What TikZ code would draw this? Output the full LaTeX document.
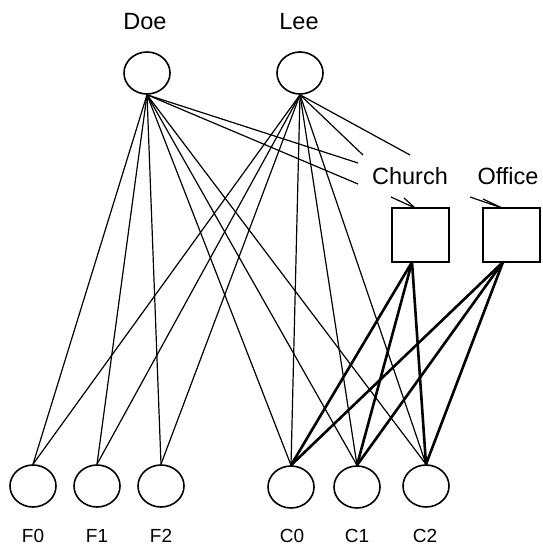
\documentclass[tikz,border=0pt]{standalone}
\usepackage{fontspec}
\setmainfont{Liberation Sans}
\usetikzlibrary{shapes.geometric}
\begin{document}
\begin{tikzpicture}[x=1pt,y=-1pt,
  person/.style={draw,ellipse,line width=1.6pt,minimum width=46pt,minimum height=42pt,inner sep=0pt},
  placebox/.style={draw,rectangle,line width=1.6pt,minimum width=57pt,minimum height=54pt,inner sep=0pt},
  toplabel/.style={font=\fontsize{23.5}{23.5}\selectfont,inner sep=0pt},
  botlabel/.style={font=\fontsize{19}{19}\selectfont,inner sep=0pt},
  thinedge/.style={line width=1.2pt},
  thickedge/.style={line width=2.6pt},
  stubedge/.style={line width=1.2pt}]
\useasboundingbox (0,0) rectangle (543,546);
% top nodes
\node[person] (doe) at (147,73) {};
\node[person] (lee) at (300,73) {};
\node[toplabel] (doel) at (145,22) {Doe};
\node[toplabel] (leel) at (299,22) {Lee};
% boxes
\node[placebox] (church) at (420.5,235) {};
\node[placebox] (office) at (511.5,235) {};
\node[toplabel] (churchl) at (410,176) {Church};
\node[toplabel] (officel) at (508,176) {Office};
\coordinate (cb) at (412,262);
\coordinate (ob) at (503,262);
% bottom nodes
\node[person] (f0) at (33,486) {};
\node[person] (f1) at (97,486) {};
\node[person] (f2) at (161,486) {};
\node[person] (c0) at (291,487) {};
\node[person] (c1) at (357,487) {};
\node[person] (c2) at (426,486) {};
\node[botlabel] (f0l) at (33,536) {F0};
\node[botlabel] (f1l) at (97,536) {F1};
\node[botlabel] (f2l) at (161,536) {F2};
\node[botlabel] (c0l) at (292,536) {C0};
\node[botlabel] (c1l) at (357,536) {C1};
\node[botlabel] (c2l) at (425,536) {C2};
% truncated edges towards Church / Office
\coordinate (d1) at (358,163);
\coordinate (d2) at (358,184);
\coordinate (l1) at (363,155);
\coordinate (l2) at (410,155);
% edge stubs at boxes
\coordinate (ca1) at (391,197);
\coordinate (ca2) at (404,198);
\coordinate (ct) at (415,208);
\coordinate (oa1) at (470,197);
\coordinate (oa2) at (483,199);
\coordinate (ot) at (502,208);
% Doe edges
\foreach \t in {f0,f1,f2,c0,c1,c2} \draw[thinedge] (doe.south) -- (\t.north);
\draw[thinedge] (doe.south) -- (d1);
\draw[thinedge] (doe.south) -- (d2);
% Lee edges
\foreach \t in {f0,f1,f2,c0,c1,c2} \draw[thinedge] (lee.south) -- (\t.north);
\draw[thinedge] (lee.south) -- (l1);
\draw[thinedge] (lee.south) -- (l2);
% Church / Office edges
\foreach \t in {c0,c1,c2} \draw[thickedge] (cb) -- (\t.north);
\foreach \t in {c0,c1,c2} \draw[thickedge] (ob) -- (\t.north);
% small stubs
\draw[stubedge] (ca1) -- (ct);
\draw[stubedge] (ca2) -- (ct);
\draw[stubedge] (oa1) -- (ot);
\draw[stubedge] (oa2) -- (ot);
\end{tikzpicture}
\end{document}
